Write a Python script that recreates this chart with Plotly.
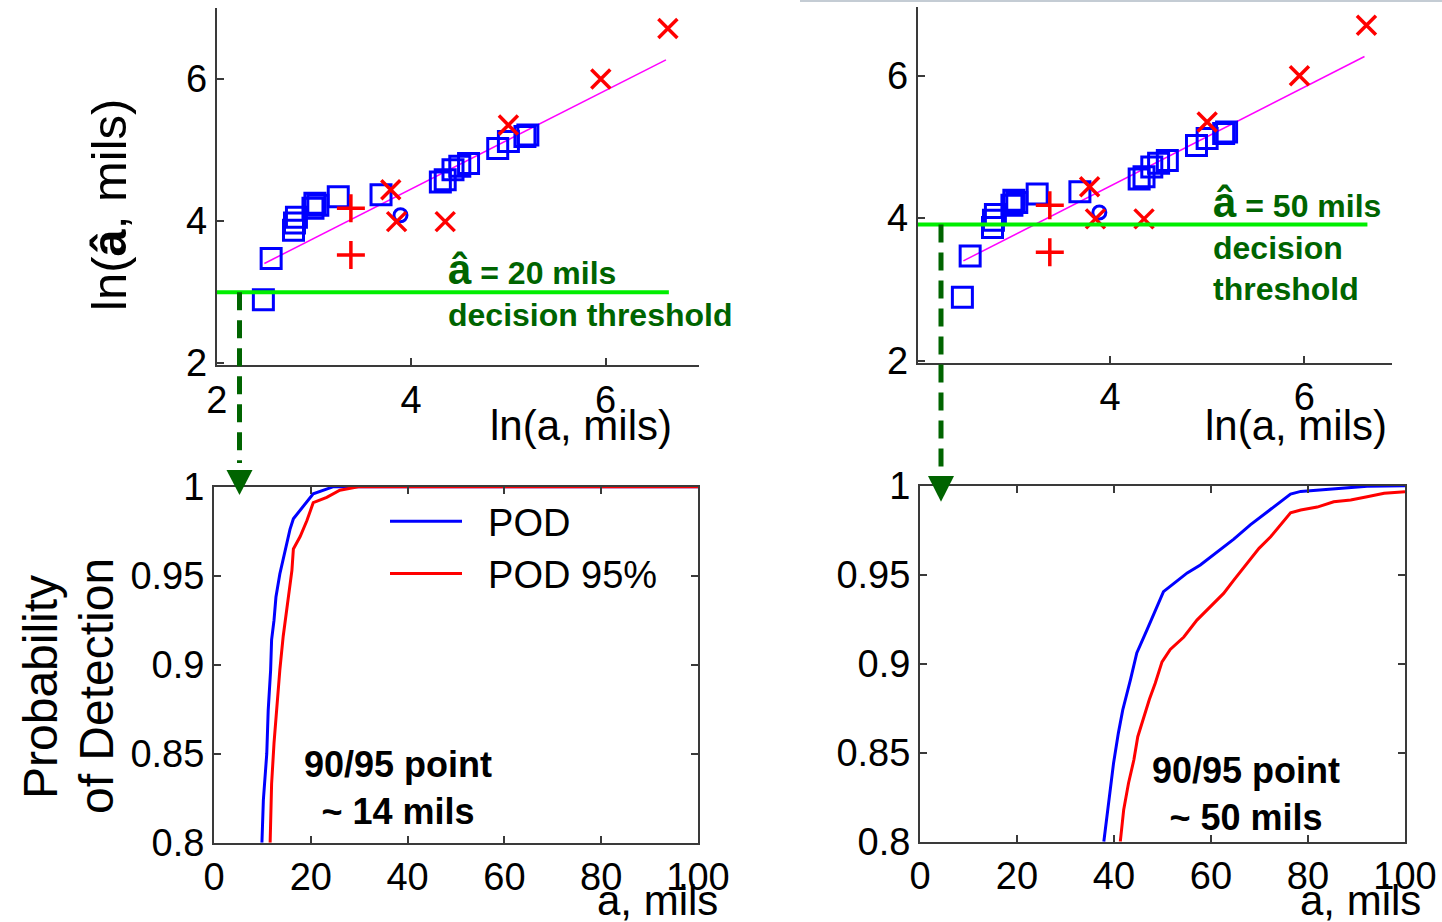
import math
import plotly.graph_objects as go

W, H = 1442, 922
FONT = "Liberation Sans, Arial, sans-serif"

# ---------------- data ----------------
# blue squares: ln(a) vs ln(a-hat)
sq_ln_a = [2.48, 2.56, 2.79, 2.80, 2.82, 2.99, 3.01, 3.04, 3.25, 3.69,
           4.30, 4.35, 4.43, 4.50, 4.59, 4.89, 5.00, 5.17, 5.20]
sq_ln_ahat = [2.89, 3.47, 3.87, 3.97, 4.05, 4.18, 4.25, 4.22, 4.34, 4.37,
              4.55, 4.58, 4.72, 4.77, 4.81, 5.02, 5.12, 5.19, 5.21]
circ_ln_a = [3.89]
circ_ln_ahat = [4.08]
# red x markers
xm_ln_a = [3.79, 3.85, 4.35, 5.00, 5.95, 6.64]
xm_ln_ahat = [4.44, 3.99, 3.99, 5.35, 6.00, 6.71]
# red plus markers
pl_ln_a = [3.38, 3.38]
pl_ln_ahat = [4.18, 3.52]
# regression fit line
fit_ln_a = [2.49, 6.62]
fit_ln_ahat = [3.40, 6.27]

thresholds_mils = [20, 50]
threshold_ln_a_span = [2.0, 6.65]

# POD curves (a in mils)
podL_a = [9.9, 10.2, 10.9, 11.2, 11.7, 11.9, 12.4, 12.8, 13.6, 14.7, 15.7,
          16.4, 17.8, 20.5, 24.7, 100]
podL = [0.800, 0.824, 0.850, 0.8745, 0.897, 0.914, 0.925, 0.938, 0.951,
        0.964, 0.976, 0.982, 0.987, 0.996, 1.0, 1.0]
pod95L_a = [11.6, 11.9, 12.4, 13.0, 13.6, 14.3, 15.1, 16.1, 16.4, 17.8,
            19.2, 20.5, 23.3, 26.0, 29.8, 100]
pod95L = [0.800, 0.833, 0.856, 0.878, 0.897, 0.916, 0.934, 0.953, 0.965,
          0.972, 0.981, 0.991, 0.994, 0.998, 1.0, 1.0]

podR_a = [37.9, 38.9, 39.9, 40.9, 41.8, 43.4, 44.7, 46.8, 48.9, 50.2, 52.3,
          55.1, 57.8, 61.3, 64.7, 68.1, 71.6, 74.3, 76.4, 78.5, 85.3, 92.2, 100]
podR = [0.800, 0.8216, 0.844, 0.861, 0.874, 0.891, 0.906, 0.919, 0.932,
        0.9405, 0.945, 0.951, 0.9555, 0.963, 0.970, 0.978, 0.9854, 0.991,
        0.9953, 0.9968, 0.9983, 0.9997, 1.0]
pod95R_a = [41.3, 42.0, 43.0, 44.1, 44.9, 46.1, 47.3, 48.5, 49.9, 51.6, 54.4,
            57.1, 59.9, 62.6, 64.7, 67.5, 69.9, 72.3, 74.3, 76.4, 78.5, 81.9,
            85.3, 88.8, 92.2, 95.7, 100]
pod95R = [0.800, 0.818, 0.833, 0.846, 0.859, 0.870, 0.880, 0.889, 0.901,
          0.908, 0.915, 0.9245, 0.932, 0.9395, 0.947, 0.9564, 0.9648, 0.9713,
          0.978, 0.9848, 0.9863, 0.988, 0.991, 0.992, 0.9938, 0.9957, 0.9966]

x_ticks_top = [2, 4, 6]
y_ticks_top = [2, 4, 6]
x_ticks_bot = [0, 20, 40, 60, 80, 100]
y_ticks_bot = [0.8, 0.85, 0.9, 0.95, 1.0]
y_ticktext_bot = ["0.8", "0.85", "0.9", "0.95", "1"]
legend_names = ["POD", "POD 95%"]

# ---------------- geometry helpers ----------------
def PX(p):
    return p / W


def PY(p):
    return 1 - p / H


dom = {
    1: dict(x=[PX(216.7), PX(699)], y=[PY(365), PY(8)], xr=[2, 6.96], yr=[1.97, 7.0]),
    2: dict(x=[PX(917.7), PX(1391.7)], y=[PY(362.7), PY(6.7)], xr=[2.02, 6.9], yr=[1.97, 6.97]),
    3: dict(x=[PX(214), PX(698)], y=[PY(842.7), PY(486.7)], xr=[0, 100], yr=[0.8, 1.0]),
    4: dict(x=[PX(920), PX(1405)], y=[PY(841.7), PY(485.7)], xr=[0, 100], yr=[0.8, 1.0]),
}

fig = go.Figure()

BLUE = "#0000ff"
RED = "#ff0000"
DKGREEN = "#006400"


def add_scatter_panel(i, thr):
    xa, ya = ("x", "y") if i == 1 else (f"x{i}", f"y{i}")
    fig.add_trace(go.Scatter(x=fit_ln_a, y=fit_ln_ahat, mode="lines",
                             line=dict(color="#ff00ff", width=1.5),
                             xaxis=xa, yaxis=ya, showlegend=False))
    fig.add_trace(go.Scatter(x=sq_ln_a, y=sq_ln_ahat, mode="markers",
                             marker=dict(symbol="square-open", size=20,
                                         color=BLUE, line=dict(width=3, color=BLUE)),
                             xaxis=xa, yaxis=ya, showlegend=False))
    fig.add_trace(go.Scatter(x=circ_ln_a, y=circ_ln_ahat, mode="markers",
                             marker=dict(symbol="circle-open", size=13,
                                         color=BLUE, line=dict(width=3, color=BLUE)),
                             xaxis=xa, yaxis=ya, showlegend=False))
    fig.add_trace(go.Scatter(x=xm_ln_a, y=xm_ln_ahat, mode="markers",
                             marker=dict(symbol="x-thin-open", size=19,
                                         color=RED, line=dict(width=3.5, color=RED)),
                             xaxis=xa, yaxis=ya, showlegend=False, cliponaxis=False))
    fig.add_trace(go.Scatter(x=pl_ln_a, y=pl_ln_ahat, mode="markers",
                             marker=dict(symbol="cross-thin-open", size=20,
                                         color=RED, line=dict(width=3.5, color=RED)),
                             xaxis=xa, yaxis=ya, showlegend=False))
    lt = math.log(thr)
    fig.add_trace(go.Scatter(x=threshold_ln_a_span, y=[lt, lt], mode="lines",
                             line=dict(color="#00ee00", width=4),
                             xaxis=xa, yaxis=ya, showlegend=False))
    return lt


lt1 = add_scatter_panel(1, thresholds_mils[0])
lt2 = add_scatter_panel(2, thresholds_mils[1])

NB = "\u00a0\u00a0"


def add_pod_panel(i, a1, p1, a2, p2, legend):
    xa, ya = f"x{i}", f"y{i}"
    fig.add_trace(go.Scatter(x=a1, y=p1, mode="lines", name=NB + legend_names[0],
                             line=dict(color=BLUE, width=3),
                             xaxis=xa, yaxis=ya, showlegend=legend))
    fig.add_trace(go.Scatter(x=a2, y=p2, mode="lines", name=NB + legend_names[1],
                             line=dict(color=RED, width=3),
                             xaxis=xa, yaxis=ya, showlegend=legend))


add_pod_panel(3, podL_a, podL, pod95L_a, pod95L, True)
add_pod_panel(4, podR_a, podR, pod95R_a, pod95R, False)

axis_common = dict(showline=True, linecolor="#3a3a3a", linewidth=2,
                   ticks="inside", ticklen=7, tickwidth=1.5, tickcolor="#3a3a3a",
                   showgrid=False, zeroline=False, fixedrange=True, automargin=False,
                   tickfont=dict(family=FONT, size=38, color="black"))

layout_axes = {}
for i in range(1, 5):
    d = dom[i]
    xn = "xaxis" if i == 1 else f"xaxis{i}"
    yn = "yaxis" if i == 1 else f"yaxis{i}"
    xa_id = "x" if i == 1 else f"x{i}"
    ya_id = "y" if i == 1 else f"y{i}"
    mirror = "ticks" if i >= 3 else False
    if i <= 2:
        xt = dict(tickvals=x_ticks_top, ticktext=[str(v) for v in x_ticks_top])
        yt = dict(tickvals=y_ticks_top, ticktext=[str(v) for v in y_ticks_top])
    else:
        xt = dict(tickvals=x_ticks_bot, ticktext=[str(v) for v in x_ticks_bot])
        yt = dict(tickvals=y_ticks_bot, ticktext=y_ticktext_bot)
    layout_axes[xn] = dict(axis_common, domain=d["x"], range=d["xr"], anchor=ya_id,
                           mirror=mirror, **xt)
    layout_axes[yn] = dict(axis_common, domain=d["y"], range=d["yr"], anchor=xa_id,
                           mirror=mirror, **yt)

fig.update_layout(**layout_axes)


def data_to_paper_y(i, v):
    d = dom[i]
    return d["y"][0] + (v - d["yr"][0]) / (d["yr"][1] - d["yr"][0]) * (d["y"][1] - d["y"][0])


shapes = []
# dashed connectors and arrow heads
for i, lt, xc, y_end, tri_top, tri_tip in [(1, lt1, 239.5, 463, 470, 495),
                                            (2, lt2, 941, 467, 476, 501.7)]:
    shapes.append(dict(type="line", xref="paper", yref="paper",
                       x0=PX(xc), x1=PX(xc), y0=data_to_paper_y(i, lt), y1=PY(y_end),
                       line=dict(color=DKGREEN, width=5, dash="18px,10px")))
    path = (f"M{PX(xc - 13)},{PY(tri_top)} L{PX(xc + 13)},{PY(tri_top)} "
            f"L{PX(xc)},{PY(tri_tip)} Z")
    shapes.append(dict(type="path", xref="paper", yref="paper", path=path,
                       fillcolor=DKGREEN, line=dict(color=DKGREEN, width=0)))
# faint slide line at top right
shapes.append(dict(type="line", xref="paper", yref="paper", x0=PX(800), x1=1,
                   y0=PY(1), y1=PY(1), line=dict(color="#c4ccd4", width=2)))

annotations = []


def ann(text, x, y, size, color="black", bold=False, angle=0, xanchor="center",
        yanchor="middle", align="center"):
    if bold:
        text = f"<b>{text}</b>"
    annotations.append(dict(text=text, x=PX(x), y=PY(y), xref="paper", yref="paper",
                            showarrow=False, textangle=angle, xanchor=xanchor,
                            yanchor=yanchor, align=align,
                            font=dict(family=FONT, size=size, color=color)))


# axis titles
ann("ln(<b>â</b>, mils)", 109, 205, 49, angle=-90)
ann("Probability", 40, 687, 48, angle=-90)
ann("of Detection", 96, 686, 48, angle=-90)
ann("ln(a, mils)", 581, 425, 42)
ann("ln(a, mils)", 1296, 425, 42)
ann("a, mils", 657, 900, 42)
ann("a, mils", 1360, 900, 42)

# threshold labels
ann("<span style='font-size:42px'>â</span> = 20 mils<br>decision threshold", 446, 290,
    32, color=DKGREEN, bold=True, xanchor="left", align="left")
ann("<span style='font-size:42px'>â</span> = 50 mils<br>decision<br>threshold", 1211, 243,
    32, color=DKGREEN, bold=True, xanchor="left", align="left")

# 90/95 labels
ann("90/95 point<br>~ 14 mils", 398, 788, 36, bold=True)
ann("90/95 point<br>~ 50 mils", 1246, 794, 36, bold=True)

fig.update_layout(
    width=W, height=H,
    margin=dict(l=0, r=0, t=0, b=0, pad=0, autoexpand=False),
    paper_bgcolor="white", plot_bgcolor="white",
    shapes=shapes, annotations=annotations,
    font=dict(family=FONT, color="black"),
    legend=dict(x=PX(385), y=PY(490), xanchor="left", yanchor="top",
                bgcolor="rgba(0,0,0,0)", font=dict(family=FONT, size=38, color="black"),
                itemwidth=72, tracegroupgap=0),
)

fig.write_html("out.html", config={"displayModeBar": False},
               post_script="document.body.style.margin='0';document.body.style.overflow='hidden';")
